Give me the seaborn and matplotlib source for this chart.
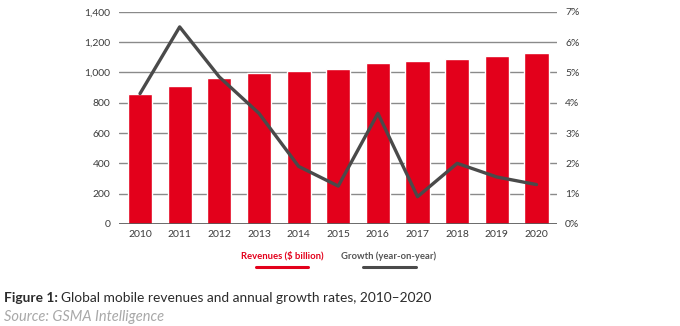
import matplotlib
matplotlib.use("Agg")
import matplotlib.pyplot as plt
from matplotlib.lines import Line2D
import numpy as np
import pandas as pd
import seaborn as sns

# Global mobile revenues ($ billion) and year-on-year growth (%)
years = ["2010", "2011", "2012", "2013", "2014", "2015",
         "2016", "2017", "2018", "2019", "2020"]
revenues = [858, 911, 960, 997, 1012, 1024, 1061, 1072, 1090, 1107, 1125]
growth = [4.3, 6.5, 4.85, 3.65, 1.9, 1.25, 3.65, 0.9, 2.0, 1.55, 1.3]

left_ticks = [0, 200, 400, 600, 800, 1000, 1200, 1400]
right_ticks = [0, 1, 2, 3, 4, 5, 6, 7]

RED = "#e3001b"
DARK = "#4a4a4a"
TXT = "#3c3c3c"

sns.set_theme(style="white")
plt.rcParams["font.family"] = ["Lato", "DejaVu Sans"]

df = pd.DataFrame({"year": years, "revenue": revenues, "growth": growth,
                   "pos": np.arange(len(years))})

fig = plt.figure(figsize=(6.8, 3.26), dpi=100)
ax = fig.add_axes([0.175, 0.3129, 0.6437, 0.6511])

sns.barplot(data=df, x="year", y="revenue", color=RED, saturation=1,
            width=0.61, ax=ax, zorder=3)
ax.set_xlim(-0.53, len(years) - 0.49)
ax.set_ylim(0, 1400)
ax.set_yticks(left_ticks)
ax.set_yticklabels([f"{v:,}" for v in left_ticks])
ax.set_xlabel("")
ax.set_ylabel("")
ax.yaxis.grid(True, color="#8a8a8a", linewidth=1.0, zorder=0)
ax.set_axisbelow(True)
for s in ax.spines.values():
    s.set_visible(False)
ax.axhline(0, color="#555555", linewidth=1.2, zorder=4)
ax.tick_params(axis="both", length=0, labelsize=7.5, colors=TXT)
ax.tick_params(axis="y", pad=6)
ax.tick_params(axis="x", pad=4)

ax2 = ax.twinx()
sns.lineplot(data=df, x="pos", y="growth", color=DARK, linewidth=2.4,
             ax=ax2, zorder=5)
ax2.set_ylim(0, 7)
ax2.set_yticks(right_ticks)
ax2.set_yticklabels([f"{v}%" for v in right_ticks])
ax2.set_ylabel("")
ax2.set_xlabel("")
ax2.set_xlim(ax.get_xlim())
for s in ax2.spines.values():
    s.set_visible(False)
ax2.tick_params(axis="y", length=0, labelsize=7.5, colors=TXT, pad=6)

# Legend: labels with a thick key line beneath each one
W, H = 680, 326
fig.text(282 / W, 1 - 256 / H, "Revenues ($ billion)", color=RED,
         fontsize=6.8, fontweight="bold", ha="center", va="center")
fig.text(389 / W, 1 - 256 / H, "Growth (year-on-year)", color="#555555",
         fontsize=6.8, fontweight="bold", ha="center", va="center")
fig.add_artist(Line2D([256 / W, 308 / W], [1 - 266.5 / H] * 2, color=RED,
                      linewidth=2.2, solid_capstyle="round"))
fig.add_artist(Line2D([363 / W, 416 / W], [1 - 266.5 / H] * 2, color=DARK,
                      linewidth=2.2, solid_capstyle="round"))

# Caption (bold label followed by regular text) and source
cap_size = 9.95
lab = fig.text(4 / W, 1 - 298 / H, "Figure 1:", fontsize=cap_size,
               fontweight="bold", color="#2b2b2b", ha="left", va="center")
renderer = fig.canvas.get_renderer()
x_end = lab.get_window_extent(renderer).x1 / fig.bbox.width
fig.text(x_end + 3 / W, 1 - 298 / H,
         "Global mobile revenues and annual growth rates, 2010\u20132020",
         fontsize=cap_size, color="#2b2b2b", ha="left", va="center")
fig.text(4 / W, 1 - 316.5 / H, "Source: GSMA Intelligence", fontsize=10.5,
         style="italic", color="#a8a8a8", ha="left", va="center")

fig.savefig("out.png", dpi=100)
